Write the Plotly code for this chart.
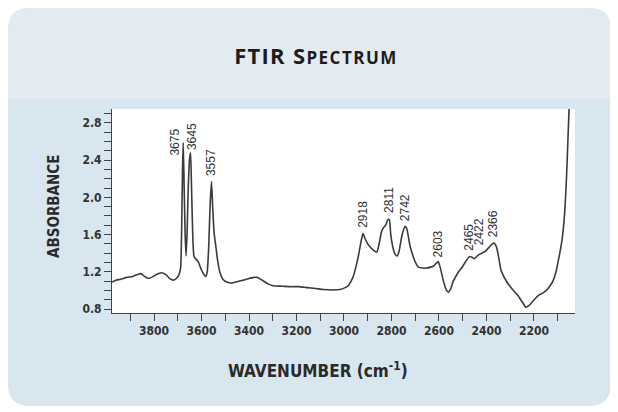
import plotly.graph_objects as go

# ---------------- data ----------------
wavenumber = [3977, 3960, 3940, 3915, 3890, 3870, 3855, 3840, 3826, 3810, 3790, 3770,
              3750, 3735, 3718, 3705, 3695, 3688, 3684, 3680, 3677, 3673, 3669, 3665,
              3661, 3656, 3650, 3646, 3642, 3637, 3632, 3625, 3614, 3602, 3590, 3582,
              3576, 3570, 3564, 3558, 3553, 3547, 3540, 3532, 3522, 3510, 3494, 3470,
              3440, 3410, 3380, 3365, 3345, 3320, 3298, 3260, 3227, 3190, 3157, 3120,
              3087, 3050, 3017, 2995, 2982, 2970, 2961, 2950, 2940, 2930, 2920, 2910,
              2900, 2891, 2875, 2862, 2852, 2843, 2835, 2825, 2815, 2809, 2803, 2797,
              2792, 2785, 2776, 2768, 2755, 2742, 2735, 2722, 2708, 2697, 2687, 2670,
              2652, 2635, 2624, 2612, 2603, 2595, 2582, 2570, 2561, 2550, 2540, 2533,
              2520, 2505, 2490, 2473, 2463, 2452, 2435, 2420, 2405, 2390, 2375, 2368,
              2358, 2348, 2339, 2325, 2311, 2290, 2269, 2250, 2234, 2220, 2199, 2180,
              2163, 2148, 2135, 2120, 2107, 2095, 2086, 2078, 2070, 2063, 2057, 2052, 2046]
absorbance = [1.09, 1.11, 1.12, 1.14, 1.15, 1.17, 1.18, 1.15, 1.13, 1.14, 1.17, 1.19,
              1.17, 1.13, 1.11, 1.13, 1.17, 1.24, 1.60, 2.30, 2.59, 2.10, 1.60, 1.37,
              1.60, 2.10, 2.42, 2.48, 2.10, 1.60, 1.37, 1.34, 1.31, 1.23, 1.17, 1.15,
              1.20, 1.45, 1.90, 2.17, 1.90, 1.62, 1.48, 1.32, 1.19, 1.12, 1.09, 1.08,
              1.10, 1.12, 1.14, 1.14, 1.11, 1.07, 1.05, 1.045, 1.04, 1.04, 1.03, 1.02,
              1.01, 1.005, 1.01, 1.03, 1.05, 1.10, 1.15, 1.25, 1.36, 1.50, 1.61, 1.55,
              1.50, 1.47, 1.43, 1.41, 1.50, 1.62, 1.67, 1.70, 1.76, 1.76, 1.60, 1.50,
              1.44, 1.39, 1.37, 1.42, 1.60, 1.69, 1.66, 1.48, 1.36, 1.29, 1.25, 1.24,
              1.24, 1.25, 1.26, 1.29, 1.31, 1.25, 1.11, 1.01, 0.98, 1.02, 1.10, 1.13,
              1.19, 1.24, 1.30, 1.36, 1.36, 1.34, 1.38, 1.40, 1.42, 1.46, 1.50, 1.51,
              1.47, 1.35, 1.22, 1.14, 1.08, 1.01, 0.95, 0.88, 0.82, 0.84, 0.90, 0.95,
              0.97, 1.00, 1.04, 1.10, 1.20, 1.35, 1.47, 1.62, 1.85, 2.20, 2.60, 2.95, 3.20]

peak_labels = ["3675", "3645", "3557", "2918", "2811", "2742", "2603", "2465", "2422", "2366"]
label_abs = [2.43, 2.49, 2.21, 1.65, 1.81, 1.72, 1.33, 1.40, 1.46, 1.55]

x_tickvals = [3800, 3600, 3400, 3200, 3000, 2800, 2600, 2400, 2200]
x_ticktext = ["3800", "3600", "3400", "3200", "3000", "2800", "2600", "2400", "2200"]
x_minorvals = [3900, 3800, 3700, 3600, 3500, 3400, 3300, 3200, 3100, 3000,
               2900, 2800, 2700, 2600, 2500, 2400, 2300, 2200, 2100]
y_tickvals = [0.8, 1.2, 1.6, 2.0, 2.4, 2.8]
y_ticktext = ["0.8", "1.2", "1.6", "2.0", "2.4", "2.8"]
y_minorvals = [0.8, 0.9, 1.0, 1.1, 1.2, 1.3, 1.4, 1.5, 1.6, 1.7, 1.8,
               1.9, 2.0, 2.1, 2.2, 2.3, 2.4, 2.5, 2.6, 2.7, 2.8, 2.9]

# ---------------- layout geometry ----------------
# The page body has an 8px margin, so the figure is drawn 8px lower/right.
OFF = 8
W, H = 618 - OFF, 412 - OFF
# plot area in reference pixels: x 112..575, y 109..313
ML, MT = 112 - OFF, 109 - OFF
MR, MB = W - (575 - OFF), H - (313 - OFF)
PW, PH = W - ML - MR, H - MT - MB


def ref_to_paper(rx, ry):
    px, py = rx - OFF, ry - OFF
    return (px - ML) / PW, (H - MB - py) / PH


def P(rx, ry):
    a, b = ref_to_paper(rx, ry)
    return f"{a:.5f},{b:.5f}"


def rounded_path(x0, y0, x1, y1, r):
    s = f"M {P(x0 + r, y0)} L {P(x1 - r, y0)} Q {P(x1, y0)} {P(x1, y0 + r)} "
    s += f"L {P(x1, y1 - r)} Q {P(x1, y1)} {P(x1 - r, y1)} "
    s += f"L {P(x0 + r, y1)} Q {P(x0, y1)} {P(x0, y1 - r)} "
    s += f"L {P(x0, y0 + r)} Q {P(x0, y0)} {P(x0 + r, y0)} Z"
    return s


def top_rounded_path(x0, y0, x1, y1, r):
    s = f"M {P(x0 + r, y0)} L {P(x1 - r, y0)} Q {P(x1, y0)} {P(x1, y0 + r)} "
    s += f"L {P(x1, y1)} L {P(x0, y1)} L {P(x0, y0 + r)} Q {P(x0, y0)} {P(x0 + r, y0)} Z"
    return s


fig = go.Figure()
fig.add_trace(go.Scatter(
    x=wavenumber, y=absorbance, mode="lines",
    line=dict(color="#3a3a3a", width=1.6, shape="spline", smoothing=0.5),
    hoverinfo="skip", showlegend=False,
))

shapes = [
    dict(type="path", xref="paper", yref="paper", layer="below",
         path=rounded_path(8, 8, 611, 406, 22), fillcolor="#d8e6ef", line=dict(width=0)),
    dict(type="path", xref="paper", yref="paper", layer="below",
         path=top_rounded_path(8, 8, 611, 99, 22), fillcolor="#e3eaf0", line=dict(width=0)),
    dict(type="rect", xref="paper", yref="paper", layer="below",
         x0=0, x1=1, y0=0, y1=1, fillcolor="white", line=dict(width=0)),
]

label_font = dict(family="Liberation Sans, Arial, sans-serif", size=12, color="#333333")
xshift_map = {"3675": -9, "3645": 1, "2465": -2, "2422": -2, "2366": -2}
annotations = []
for lab, yv in zip(peak_labels, label_abs):
    annotations.append(dict(
        x=float(lab), y=yv, xref="x", yref="y", text=lab, textangle=-90,
        showarrow=False, xanchor="center", yanchor="bottom",
        xshift=xshift_map.get(lab, 0), font=label_font,
    ))

cond = "DejaVu Sans Condensed, DejaVu Sans, sans-serif"
ax_x, ax_y = ref_to_paper(54, 207)
annotations.append(dict(
    x=ax_x, y=ax_y, xref="paper", yref="paper", text="ABSORBANCE", textangle=-90,
    showarrow=False, xanchor="center", yanchor="middle",
    font=dict(family=cond, size=15, color="#2a2a2a", weight="bold"),
))
wx, wy = ref_to_paper(318, 370)
annotations.append(dict(
    x=wx, y=wy, xref="paper", yref="paper", text="WAVENUMBER (cm<sup>-1</sup>)",
    showarrow=False, xanchor="center", yanchor="middle",
    font=dict(family=cond, size=17, color="#2a2a2a", weight="bold"),
))

tick_font = dict(family=cond, size=12, color="#333333", weight="bold")
tick_style = dict(ticks="outside", ticklen=7, tickwidth=1, tickcolor="#444444")

title_text = ("<span style='letter-spacing:1.3px'>FTIR S</span>"
              "<span style='font-size:17px;letter-spacing:1.5px'>PECTRUM</span>")

fig.update_layout(
    width=W, height=H,
    margin=dict(l=ML, r=MR, t=MT, b=MB, pad=0),
    paper_bgcolor="white", plot_bgcolor="rgba(0,0,0,0)",
    title=dict(
        text=title_text,
        x=(316 - OFF) / W, xanchor="center", y=1 - (56 - OFF) / H, yanchor="middle",
        font=dict(family="Open Sans, Lato, sans-serif", size=22, color="#1c1c1c", weight=700),
    ),
    xaxis=dict(range=[3977, 2027], tickmode="array", tickvals=x_tickvals, ticktext=x_ticktext,
               minor=dict(tickmode="array", tickvals=x_minorvals, **tick_style),
               showline=True, linecolor="#444444", linewidth=1,
               showgrid=False, zeroline=False, tickfont=tick_font, **tick_style),
    yaxis=dict(range=[0.757, 2.95], tickmode="array", tickvals=y_tickvals, ticktext=y_ticktext,
               minor=dict(tickmode="array", tickvals=y_minorvals, **tick_style),
               showline=True, linecolor="#444444", linewidth=1,
               showgrid=False, zeroline=False, tickfont=tick_font, **tick_style),
    shapes=shapes,
    annotations=annotations,
    showlegend=False,
)

fig.write_html("out.html")
